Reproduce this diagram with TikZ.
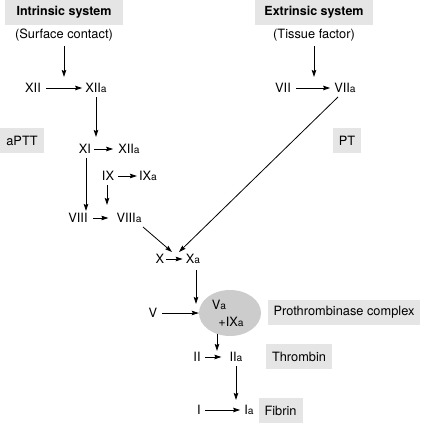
\documentclass[tikz,border=0pt]{standalone}
\usepackage{fontspec}
\setmainfont{TeX Gyre Heros}
\usetikzlibrary{arrows.meta,shapes.geometric,calc}
\newcommand{\sa}{{\fontsize{10.2}{10.2}\selectfont a}}
\begin{document}
\begin{tikzpicture}[x=1pt,y=-1pt,
  lab/.style={inner sep=0pt, font=\fontsize{12.8}{14}\selectfont},
  gbox/.style={fill=black!10, inner xsep=6pt, inner ysep=0pt, minimum height=25pt, font=\fontsize{12.8}{14}\selectfont},
  tbox/.style={fill=black!10, inner sep=0pt, minimum height=25pt, minimum width=118pt, font=\fontsize{12.5}{14}\selectfont\bfseries},
  arr/.style={-{Stealth[length=7pt,width=4.5pt,inset=1pt]}, line width=0.8pt}]
\useasboundingbox (0,0) rectangle (423,428);

% headers
\node[tbox] (intr) at (64,12.5) {Intrinsic system};
\node[tbox] (extr) at (314,12.5) {Extrinsic system};
\node[lab] (surf) at (64,35) {(Surface contact)};
\node[lab] (tiss) at (314,35) {(Tissue factor)};

% side boxes
\node[gbox] (aptt) at (22,140.5) {aPTT};
\node[gbox] (pt) at (347,140.5) {PT};
\node[gbox] (prot) at (344,312.5) {Prothrombinase complex};
\node[gbox] (thr) at (299,356.5) {Thrombin};
\node[gbox] (fib) at (280.5,410.5) {Fibrin};

% factors
\node[lab] (XII) at (33,88) {XII};
\node[lab] (XIIa) at (96,88) {XII\sa};
\node[lab] (VII) at (283,88) {VII};
\node[lab] (VIIa) at (345,88) {VII\sa};
\node[lab] (XI) at (85,149) {XI};
\node[lab] (XIIb) at (129,149) {XII\sa};
\node[lab] (IX) at (108,176) {IX};
\node[lab] (IXa) at (148,176) {IX\sa};
\node[lab] (VIII) at (78,218) {VIII};
\node[lab] (VIIIa) at (129,218) {VIII\sa};
\node[lab] (X) at (160,259) {X};
\node[lab] (Xa) at (193,259) {X\sa};
\node[ellipse, fill=black!20, minimum width=62pt, minimum height=46pt, inner sep=0pt] (cx) at (230,313) {};
\node[lab] (Va) at (219,305) {V\sa};
\node[lab] (IXb) at (231,322) {+IX\sa};
\node[lab] (V) at (153,313) {V};
\node[lab] (II) at (197,357) {II};
\node[lab] (IIa) at (236,357) {II\sa};
\node[lab] (I) at (199,410) {I};
\node[lab] (Ia) at (249,410) {I\sa};

% free ends
\coordinate (t1) at (64,77);
\coordinate (t2) at (314,77);
\coordinate (t3) at (96,137);
\coordinate (t4) at (86,211);
\coordinate (t5) at (107,205);
\coordinate (t6) at (172,252);
\coordinate (t7) at (179,252);
\coordinate (t8) at (196,304);
\coordinate (t9) at (217,351);
\coordinate (t10) at (236,400);

% connectors
\draw[arr] ([yshift=-5pt]surf.south) -- (t1);
\draw[arr] ([yshift=-5pt]tiss.south) -- (t2);
\draw[arr] ([xshift=5pt]XII.east) -- ([xshift=-3pt]XIIa.west);
\draw[arr] ([xshift=5pt]VII.east) -- ([xshift=-4pt]VIIa.west);
\draw[arr] (96,97) -- (t3);
\draw[arr] ([xshift=3pt]XI.east) -- ([xshift=-5pt]XIIb.west);
\draw[arr] ([xshift=4pt]IX.east) -- ([xshift=-2pt]IXa.west);
\draw[arr] (86,158) -- (t4);
\draw[arr] (107,185) -- (t5);
\draw[arr] ([xshift=5pt]VIII.east) -- ([xshift=-8pt]VIIIa.west);
\draw[arr] (143,227) -- (t6);
\draw[arr] (338,97) -- (t7);
\draw[arr] ([xshift=2pt]X.east) -- ([xshift=-3pt]Xa.west);
\draw[arr] (196,270) -- (t8);
\draw[arr] ([xshift=5pt]V.east) -- (cx.west);
\draw[arr] (217,334) -- (t9);
\draw[arr] ([xshift=4pt]II.east) -- ([xshift=-8pt]IIa.west);
\draw[arr] (236,366) -- (t10);
\draw[arr] ([xshift=4pt]I.east) -- ([xshift=-4pt]Ia.west);
\end{tikzpicture}
\end{document}
